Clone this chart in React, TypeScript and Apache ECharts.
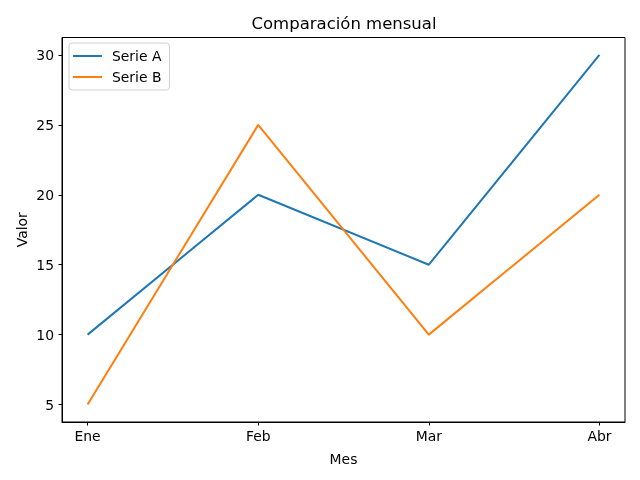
import React, { useEffect, useRef } from "react";
import * as echarts from "echarts";

const months = ["Ene", "Feb", "Mar", "Abr"];
const serieA = [10, 20, 15, 30];
const serieB = [5, 25, 10, 20];
const yTicks = [5, 10, 15, 20, 25, 30];
const xTicks = [0, 1, 2, 3];

const FONT = "DejaVu Sans";

export default function App() {
  const ref = useRef<HTMLDivElement>(null);
  useEffect(() => {
    const chart = echarts.init(ref.current!, null, { renderer: "svg" });
    const gridLeft = 62;
    const gridTop = 37.5;
    const gridRight = 15;
    const gridBottom = 58;
    chart.setOption({
      animation: false,
      textStyle: { fontFamily: FONT },
      title: {
        text: "Comparación mensual",
        left: 339,
        textAlign: "center",
        top: 10,
        textStyle: { fontFamily: FONT, fontSize: 16.5, fontWeight: "normal", color: "#000" },
      },
      legend: {
        orient: "vertical",
        left: 69,
        top: 43,
        padding: [6, 8, 6, 4],
        itemGap: 7,
        itemWidth: 29,
        itemHeight: 2,
        icon: "rect",
        backgroundColor: "rgba(255,255,255,0.8)",
        borderColor: "#d0d0d0",
        borderWidth: 1,
        borderRadius: 3,
        textStyle: { fontFamily: FONT, fontSize: 13.9, color: "#000", padding: [0, 0, 0, 5] },
        data: ["Serie A", "Serie B"],
      },
      grid: { left: gridLeft, top: gridTop, right: gridRight, bottom: gridBottom },
      xAxis: {
        type: "value",
        min: -0.15,
        max: 3.15,
        name: "Mes",
        nameLocation: "middle",
        nameGap: 30,
        nameMoveOverlap: false,
        nameTextStyle: { fontFamily: FONT, fontSize: 13.9, color: "#000" },
        axisLine: { show: true, onZero: false, lineStyle: { color: "#000", width: 1 } },
        axisTick: { show: true, customValues: xTicks, length: 3.5, lineStyle: { color: "#000" } },
        axisLabel: {
          customValues: xTicks,
          formatter: (v: number) => months[Math.round(v)] ?? "",
          margin: 7,
          fontFamily: FONT,
          fontSize: 13.9,
          color: "#000",
        },
        splitLine: { show: false },
      },
      yAxis: {
        type: "value",
        min: 3.75,
        max: 31.25,
        name: "Valor",
        nameLocation: "middle",
        nameGap: 33,
        nameMoveOverlap: false,
        nameRotate: 90,
        nameTextStyle: { fontFamily: FONT, fontSize: 13.9, color: "#000" },
        axisLine: { show: true, onZero: false, lineStyle: { color: "#000", width: 1 } },
        axisTick: { show: true, customValues: yTicks, length: 3.5, lineStyle: { color: "#000" } },
        axisLabel: {
          customValues: yTicks,
          margin: 8,
          fontFamily: FONT,
          fontSize: 13.9,
          color: "#000",
        },
        splitLine: { show: false },
      },
      graphic: [
        {
          type: "rect",
          z: 100,
          shape: { x: gridLeft, y: gridTop, width: 640 - gridLeft - gridRight, height: 480 - gridTop - gridBottom },
          style: { fill: "none", stroke: "#000", lineWidth: 1 },
          silent: true,
        },
      ],
      series: [
        {
          name: "Serie A",
          type: "line",
          data: serieA.map((v, i) => [i, v]),
          showSymbol: false,
          symbol: "none",
          lineStyle: { color: "#1f77b4", width: 2 },
          itemStyle: { color: "#1f77b4" },
          z: 2,
        },
        {
          name: "Serie B",
          type: "line",
          data: serieB.map((v, i) => [i, v]),
          showSymbol: false,
          symbol: "none",
          lineStyle: { color: "#ff7f0e", width: 2 },
          itemStyle: { color: "#ff7f0e" },
          z: 3,
        },
      ],
    });
    return () => chart.dispose();
  }, []);
  return <div ref={ref} style={{ width: 640, height: 480, position: "fixed", left: 0, top: 0 }} />;
}
